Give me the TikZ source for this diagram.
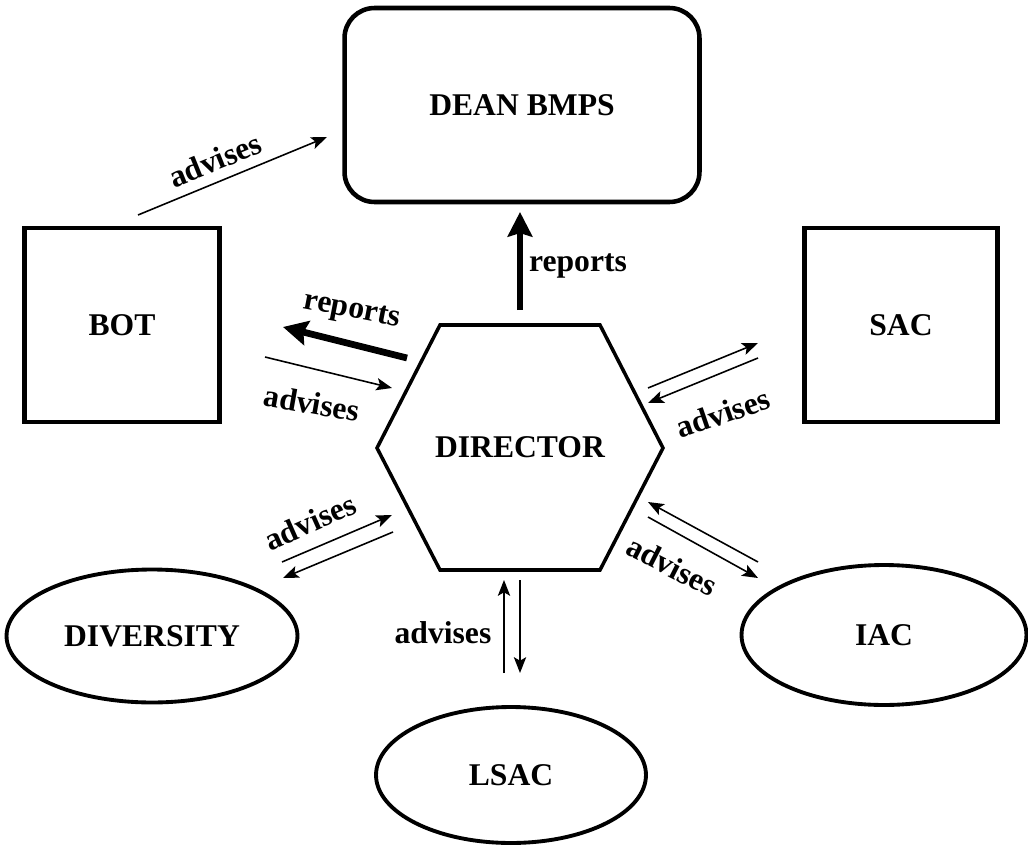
\documentclass[tikz,border=0pt]{standalone}
\usepackage{fontspec}
\setmainfont{Liberation Serif}
\usepackage{tikz}
\usetikzlibrary{shapes.geometric,arrows.meta}

\begin{document}
\begin{tikzpicture}[x=0.02cm,y=-0.02cm,
  every node/.style={font=\fontsize{18}{20}\selectfont\bfseries},
  box/.style={draw,line width=2.6pt,inner sep=0pt},
  oval/.style={draw,ellipse,line width=2.2pt,inner sep=0pt},
  advarrow/.style={line width=0.9pt,-{Stealth[length=9pt,width=7pt,inset=2pt]}},
  reparrow/.style={line width=3.8pt,-{Stealth[length=14pt,width=14pt,inset=2pt]}}]
\useasboundingbox (0,0) rectangle (1028,852);

\node[box,rounded corners=0.6cm,minimum width=7.1cm,minimum height=3.88cm] (dean) at (522,105) {DEAN BMPS};
\node[box,minimum width=3.9cm,minimum height=3.88cm] (bot) at (122,325) {BOT};
\node[box,minimum width=3.86cm,minimum height=3.88cm] (sac) at (901,325) {SAC};
\node (director) at (520,447) {DIRECTOR};
\draw[line width=2pt] (440,325)--(600,325)--(663,448)--(600,570)--(440,570)--(377,448)--cycle;
\node[oval,minimum width=5.82cm,minimum height=2.66cm] (diversity) at (152,636) {DIVERSITY};
\node[oval,minimum width=5.7cm,minimum height=2.8cm] (iac) at (884,635) {IAC};
\node[oval,minimum width=5.4cm,minimum height=2.72cm] (lsac) at (511,775) {LSAC};

\coordinate (bd1) at (138,215); \coordinate (bd2) at (327,137);
\coordinate (dd1) at (520,310); \coordinate (dd2) at (520,212);
\coordinate (db1) at (407,358); \coordinate (db2) at (283,327);
\coordinate (bx1) at (265,357); \coordinate (bx2) at (392,388);
\coordinate (sa1) at (648,388); \coordinate (sa2) at (758,343);
\coordinate (sa3) at (758,358); \coordinate (sa4) at (648,403);
\coordinate (dv1) at (282,562); \coordinate (dv2) at (392,515);
\coordinate (dv3) at (393,532); \coordinate (dv4) at (283,578);
\coordinate (ia1) at (758,562); \coordinate (ia2) at (648,502);
\coordinate (ia3) at (648,517); \coordinate (ia4) at (758,578);
\coordinate (ls1) at (504,673); \coordinate (ls2) at (504,580);
\coordinate (ls3) at (520,580); \coordinate (ls4) at (520,673);

\draw[advarrow] (bd1)--(bd2);
\draw[reparrow] (dd1)--(dd2);
\draw[reparrow] (db1)--(db2);
\draw[advarrow] (bx1)--(bx2);
\draw[advarrow] (sa1)--(sa2);
\draw[advarrow] (sa3)--(sa4);
\draw[advarrow] (dv1)--(dv2);
\draw[advarrow] (dv3)--(dv4);
\draw[advarrow] (ia1)--(ia2);
\draw[advarrow] (ia3)--(ia4);
\draw[advarrow] (ls1)--(ls2);
\draw[advarrow] (ls3)--(ls4);

\node[rotate=22] (advbd) at (215,160) {advises};
\node (repdd) at (578,266) {reports};
\node[rotate=-11] (repdb) at (352,312) {reports};
\node[rotate=-10] (advbx) at (312,403) {advises};
\node[rotate=19] (advsa) at (723,413) {advises};
\node[rotate=24] (advdv) at (310,522) {advises};
\node[rotate=-27] (advia) at (672,566) {advises};
\node (advls) at (443,633) {advises};
\end{tikzpicture}
\end{document}
